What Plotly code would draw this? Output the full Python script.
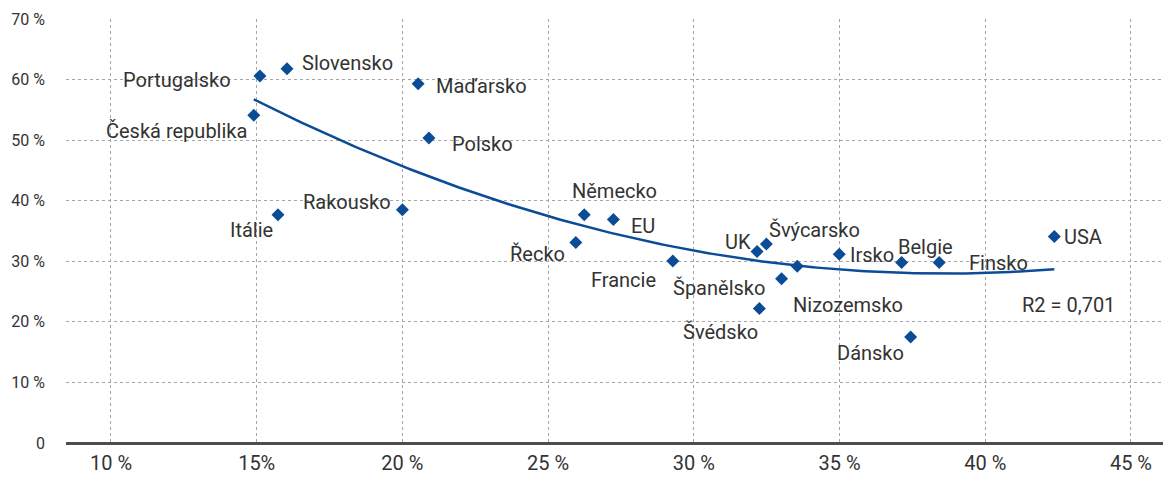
import numpy as np
import plotly.graph_objects as go

# data (x and y in %)
countries = ["Portugalsko", "Slovensko", "Česká republika", "Itálie", "Rakousko",
             "Maďarsko", "Polsko", "Německo", "EU", "Řecko", "Francie", "UK",
             "Švýcarsko", "Švédsko", "Španělsko", "Nizozemsko", "Irsko", "Belgie",
             "Finsko", "Dánsko", "USA"]
x_vals = [15.11, 16.04, 14.90, 15.73, 20.0, 20.54, 20.91, 26.24, 27.24, 25.95, 29.28,
          32.17, 32.49, 32.25, 33.01, 33.55, 34.99, 37.13, 38.42, 37.44, 42.37]
y_vals = [60.6, 61.8, 54.1, 37.7, 38.5, 59.3, 50.35, 37.7, 36.9, 33.1, 30.05,
          31.6, 32.85, 22.2, 27.1, 29.2, 31.15, 29.8, 29.8, 17.5, 34.1]

x_ticks = [10, 15, 20, 25, 30, 35, 40, 45]
x_ticktext = ["10 %", "15%", "20 %", "25 %", "30 %", "35 %", "40 %", "45 %"]
y_ticks = [0, 10, 20, 30, 40, 50, 60, 70]
y_ticktext = ["0", "10 %", "20 %", "30 %", "40 %", "50 %", "60 %", "70 %"]
r2_text = "R2 = 0,701"

# label placement: (xanchor, xshift, yshift)
label_pos = {
    "Portugalsko": ("right", -27, -4),
    "Slovensko": ("left", 13, 6),
    "Česká republika": ("right", -5, -16),
    "Itálie": ("right", -3, -15),
    "Rakousko": ("right", -9, 8),
    "Maďarsko": ("left", 16, -2),
    "Polsko": ("left", 21, -6),
    "Německo": ("left", -14, 24),
    "EU": ("left", 16, -7),
    "Řecko": ("right", -9, -11),
    "Francie": ("right", -15, -19),
    "UK": ("right", -4, 10),
    "Švýcarsko": ("left", 1, 14),
    "Švédsko": ("right", 1, -23),
    "Španělsko": ("right", -15, -9),
    "Nizozemsko": ("left", -6, -39),
    "Irsko": ("left", 9, -1),
    "Belgie": ("left", -6, 16),
    "Finsko": ("left", 28, 0),
    "Dánsko": ("right", -5, -16),
    "USA": ("left", 8, -1),
}

blue = "#0b4c97"
text_col = "#333333"
font_family = "Roboto, 'Open Sans', sans-serif"

# polynomial (order 2) trend line, as in the source
coef = np.polyfit(x_vals, y_vals, 2)
xt = np.linspace(min(x_vals), max(x_vals), 200)
yt = np.polyval(coef, xt)

fig = go.Figure()
fig.add_trace(go.Scatter(x=xt, y=yt, mode="lines",
                         line=dict(color=blue, width=2.5), hoverinfo="skip"))
fig.add_trace(go.Scatter(x=x_vals, y=y_vals, mode="markers", text=countries,
                         marker=dict(symbol="diamond", size=10, color=blue)))

annotations = []
for name, xv, yv in zip(countries, x_vals, y_vals):
    anchor, dx, dy = label_pos[name]
    annotations.append(dict(x=xv, y=yv, xref="x", yref="y", text=name,
                            showarrow=False, xanchor=anchor, yanchor="middle",
                            xshift=dx, yshift=dy,
                            font=dict(size=20, color=text_col, family=font_family)))
annotations.append(dict(x=44.52, y=22.8, xref="x", yref="y", text=r2_text,
                        showarrow=False, xanchor="right", yanchor="middle",
                        font=dict(size=20, color=text_col, family=font_family)))

fig.update_layout(
    width=1163, height=477,
    margin=dict(l=66, r=0, t=19, b=34),
    plot_bgcolor="white", paper_bgcolor="white",
    showlegend=False,
    font=dict(family=font_family, color=text_col),
    annotations=annotations,
    xaxis=dict(range=[8.456, 46.1], tickvals=x_ticks, ticktext=x_ticktext,
               showgrid=True, gridcolor="#a6a6a6", griddash="dot", gridwidth=1,
               zeroline=False, showline=False, ticks="", automargin=False,
               tickfont=dict(size=20, color=text_col), ticklabelstandoff=6),
    yaxis=dict(range=[0, 70], tickvals=y_ticks, ticktext=y_ticktext,
               showgrid=True, gridcolor="#a6a6a6", griddash="dot", gridwidth=1,
               zeroline=True, zerolinecolor="#4d4d4d", zerolinewidth=2.5,
               showline=False, ticks="", automargin=False,
               tickfont=dict(size=16, color=text_col), ticklabelstandoff=20),
)

fig.write_html("out.html", config={"displayModeBar": False},
               post_script="document.body.style.margin='0px';")
